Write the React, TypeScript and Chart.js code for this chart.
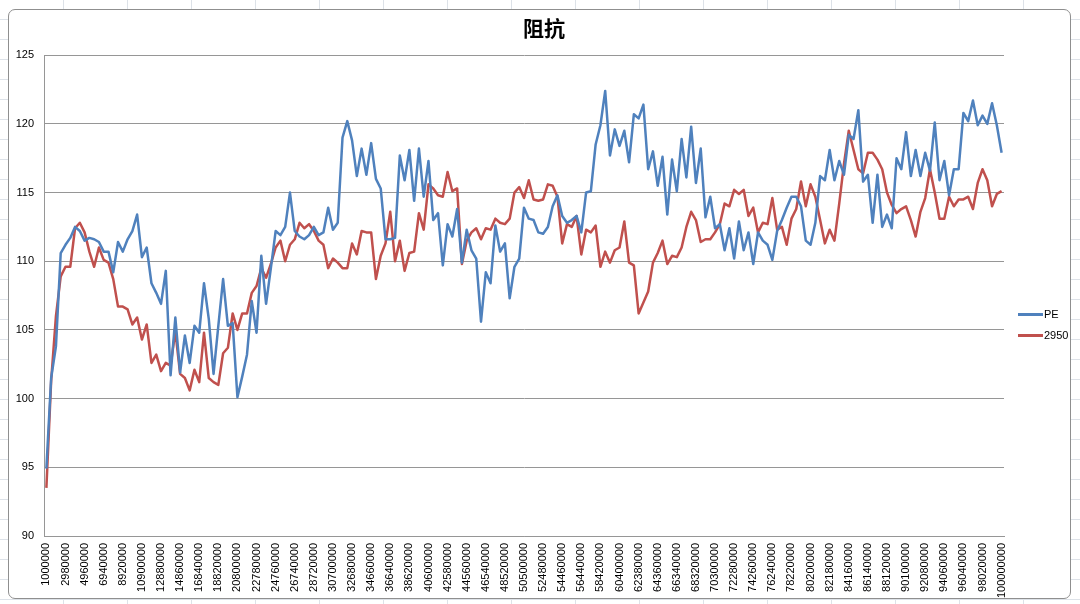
import React, { useEffect, useRef } from "react";
import { Chart, registerables } from "chart.js";

Chart.register(...registerables);

// Frequency categories (Hz): 1,000,000 .. 100,000,000 in 495,000 steps
const FREQ_START = 1000000;
const FREQ_STEP = 495000;
const POINT_COUNT = 201;
const frequencies: string[] = Array.from({ length: POINT_COUNT }, (_, i) => String(FREQ_START + i * FREQ_STEP));
const LABEL_EVERY = 4;

const chartTitle = "阻抗";
const seriesNames = ["PE", "2950"];

const peValues: number[] = [
  94.9, 101.5, 103.8, 110.6, 111.2, 111.7, 112.5, 112.2, 111.5, 111.7,
  111.6, 111.4, 110.7, 110.7, 109.2, 111.4, 110.7, 111.6, 112.2, 113.4,
  110.3, 111.0, 108.4, 107.7, 106.9, 109.3, 101.7, 105.9, 101.9, 104.6,
  102.6, 105.3, 104.8, 108.4, 105.8, 101.8, 105.3, 108.7, 105.3, 105.5,
  100.1, 101.6, 103.2, 107.1, 104.8, 110.4, 106.9, 109.5, 112.2, 111.9,
  112.5, 115.0, 112.2, 111.8, 111.6, 111.9, 112.5, 111.9, 112.1, 113.9,
  112.3, 112.8, 119.0, 120.2, 118.8, 116.2, 118.2, 116.3, 118.6, 116.0,
  115.3, 111.6, 111.6, 111.7, 117.7, 115.9, 118.1, 114.4, 118.2, 114.7,
  117.3, 113.0, 113.5, 109.7, 112.7, 111.8, 113.8, 109.9, 112.3, 110.8,
  110.2, 105.6, 109.2, 108.4, 112.6, 110.7, 111.3, 107.3, 109.6, 110.2,
  113.9, 113.1, 113.0, 112.1, 112.0, 112.5, 114.0, 114.8, 113.3, 112.8,
  113.0, 113.3, 112.1, 115.0, 115.1, 118.5, 119.9, 122.4, 117.7, 119.6,
  118.4, 119.5, 117.2, 120.7, 120.4, 121.4, 116.7, 118.0, 115.5, 117.6,
  113.4, 117.4, 115.1, 118.9, 116.1, 119.8, 115.7, 118.2, 113.2, 114.7,
  112.4, 112.7, 110.8, 112.4, 110.2, 112.9, 110.8, 112.1, 109.8, 112.1,
  111.5, 111.2, 110.1, 112.2, 113.0, 113.9, 114.7, 114.7, 114.0, 111.5,
  111.2, 112.8, 116.2, 115.9, 118.1, 115.9, 117.3, 116.3, 119.2, 118.9,
  121.0, 115.8, 116.3, 112.8, 116.3, 112.5, 113.4, 112.4, 117.5, 116.7,
  119.4, 116.2, 118.1, 116.2, 117.9, 116.6, 120.1, 115.9, 117.3, 114.8,
  116.7, 116.7, 120.8, 120.2, 121.7, 119.9, 120.6, 120.0, 121.5, 119.9,
  117.9,
];

const v2950Values: number[] = [
  93.5, 101.3, 106.0, 108.9, 109.6, 109.6, 112.4, 112.8, 112.1, 110.7,
  109.6, 111.0, 110.1, 109.9, 108.7, 106.7, 106.7, 106.5, 105.4, 105.9,
  104.3, 105.4, 102.6, 103.2, 102.0, 102.6, 102.4, 104.9, 101.8, 101.5,
  100.6, 102.1, 101.2, 104.8, 101.5, 101.2, 101.0, 103.3, 103.7, 106.2,
  105.0, 106.2, 106.2, 107.7, 108.2, 109.5, 108.8, 109.8, 111.0, 111.5,
  110.0, 111.2, 111.6, 112.8, 112.4, 112.7, 112.2, 111.5, 111.2, 109.5,
  110.2, 109.9, 109.5, 109.5, 111.3, 110.5, 112.2, 112.1, 112.1, 108.7,
  110.4, 111.3, 113.6, 110.0, 111.5, 109.3, 110.6, 110.7, 113.5, 112.3,
  115.6, 115.3, 114.8, 114.7, 116.5, 115.1, 115.3, 109.8, 111.5, 112.1,
  112.4, 111.6, 112.4, 112.3, 113.1, 112.8, 112.7, 113.1, 115.0, 115.4,
  114.6, 115.9, 114.5, 114.4, 114.5, 115.6, 115.5, 114.7, 111.3, 112.7,
  112.5, 113.3, 110.5, 112.3, 112.1, 112.6, 109.6, 110.7, 109.9, 110.8,
  111.0, 112.9, 109.9, 109.7, 106.2, 107.0, 107.8, 109.9, 110.6, 111.5,
  109.8, 110.4, 110.3, 111.0, 112.5, 113.6, 113.0, 111.4, 111.6, 111.6,
  112.1, 112.7, 114.2, 114.0, 115.2, 114.9, 115.2, 113.3, 113.9, 112.1,
  112.8, 112.7, 114.6, 112.3, 112.5, 111.2, 113.1, 113.8, 115.8, 114.0,
  115.6, 114.7, 113.0, 111.3, 112.3, 111.5, 114.2, 117.1, 119.5, 118.1,
  116.7, 116.4, 117.9, 117.9, 117.4, 116.7, 115.0, 114.1, 113.5, 113.8,
  114.0, 113.0, 111.8, 113.6, 114.6, 116.7, 115.0, 113.1, 113.1, 114.7,
  114.0, 114.5, 114.5, 114.7, 113.8, 115.7, 116.7, 115.9, 114.0, 114.9,
  115.1,
];

const Y_MIN = 90;
const Y_MAX = 125;
const Y_STEP = 5;

const BLUE = "#4F81BD";
const RED = "#C0504D";
const GRID = "#969696";
const FONT = "'Liberation Sans', Arial, sans-serif";

const sideLegend = {
  id: "sideLegend",
  afterDraw(chart: any) {
    const ctx = chart.ctx;
    const area = chart.chartArea;
    const x0 = area.right + 14;
    const yCenter = 324;
    const gap = 21;
    const sets = chart.data.datasets;
    ctx.save();
    ctx.font = `11px ${FONT}`;
    ctx.textBaseline = "middle";
    ctx.textAlign = "left";
    sets.forEach((ds: any, i: number) => {
      const y = Math.round(yCenter + (i - (sets.length - 1) / 2) * gap) + 0.5;
      ctx.strokeStyle = ds.borderColor;
      ctx.lineWidth = 3;
      ctx.lineCap = "butt";
      ctx.beginPath();
      ctx.moveTo(x0, y);
      ctx.lineTo(x0 + 25, y);
      ctx.stroke();
      ctx.fillStyle = "#000";
      ctx.fillText(ds.label, x0 + 26, y);
    });
    ctx.restore();
  },
};

export default function App() {
  const canvasRef = useRef<HTMLCanvasElement | null>(null);

  useEffect(() => {
    document.body.style.margin = "0";
    const canvas = canvasRef.current;
    if (!canvas) return;
    const chart = new Chart(canvas, {
      type: "line",
      data: {
        labels: frequencies,
        datasets: [
          {
            label: seriesNames[0],
            data: peValues,
            borderColor: BLUE,
            backgroundColor: BLUE,
            borderWidth: 2.5,
            pointRadius: 0,
            pointHoverRadius: 0,
            tension: 0,
            borderJoinStyle: "round",
            yAxisID: "y",
          },
          {
            label: seriesNames[1],
            data: v2950Values,
            borderColor: RED,
            backgroundColor: RED,
            borderWidth: 2.5,
            pointRadius: 0,
            pointHoverRadius: 0,
            tension: 0,
            borderJoinStyle: "round",
            yAxisID: "y",
          },
        ],
      },
      options: {
        responsive: false,
        animation: false,
        devicePixelRatio: 1,
        events: [],
        layout: { padding: { left: 8, right: 0, top: 0, bottom: 0 } },
        plugins: {
          legend: { display: false },
          tooltip: { enabled: false },
          title: {
            display: true,
            text: chartTitle,
            color: "#000",
            font: { family: "'Noto Sans CJK SC', sans-serif", size: 21, weight: "bold", lineHeight: 1.2 },
            padding: { top: 15, bottom: 15 },
          },
        },
        scales: {
          x: {
            type: "category",
            offset: true,
            grid: { display: false, drawTicks: false },
            border: { display: true, color: GRID, width: 1 },
            ticks: {
              autoSkip: false,
              minRotation: 90,
              maxRotation: 90,
              padding: 7,
              color: "#000",
              font: { family: FONT, size: 11 },
              callback: (_v: any, idx: number) => (idx % LABEL_EVERY === 0 ? frequencies[idx] : ""),
            },
            afterFit: (s: any) => {
              s.height = 68;
            },
          },
          y: {
            position: "left",
            min: Y_MIN,
            max: Y_MAX,
            grid: { color: GRID, lineWidth: 1, drawTicks: false },
            border: { display: true, color: GRID, width: 1 },
            ticks: {
              stepSize: Y_STEP,
              padding: 10,
              color: "#000",
              font: { family: FONT, size: 11 },
            },
            afterFit: (s: any) => {
              s.width = 36;
            },
          },
          legendSpace: {
            type: "linear",
            position: "right",
            display: true,
            grid: { display: false, drawTicks: false },
            border: { display: false },
            ticks: { display: false },
            afterFit: (s: any) => {
              s.width = 76;
            },
          },
        },
      },
      plugins: [sideLegend],
    } as any);
    return () => chart.destroy();
  }, []);

  const sheetBg =
    "repeating-linear-gradient(to right, transparent 0 63px, #dde2e8 63px 64px)," +
    "repeating-linear-gradient(to bottom, transparent 0 19px, #dde2e8 19px 20px), #ffffff";

  return (
    <div style={{ position: "fixed", left: 0, top: 0, width: 1080, height: 604, background: sheetBg, overflow: "hidden" }}>
      <div
        style={{
          position: "absolute",
          left: 8,
          top: 9,
          width: 1061,
          height: 588,
          border: "1px solid #8f8f8f",
          borderRadius: 7,
          background: "#ffffff",
        }}
      />
      <canvas ref={canvasRef} width={1080} height={604} style={{ position: "absolute", left: 0, top: 0 }} />
    </div>
  );
}
